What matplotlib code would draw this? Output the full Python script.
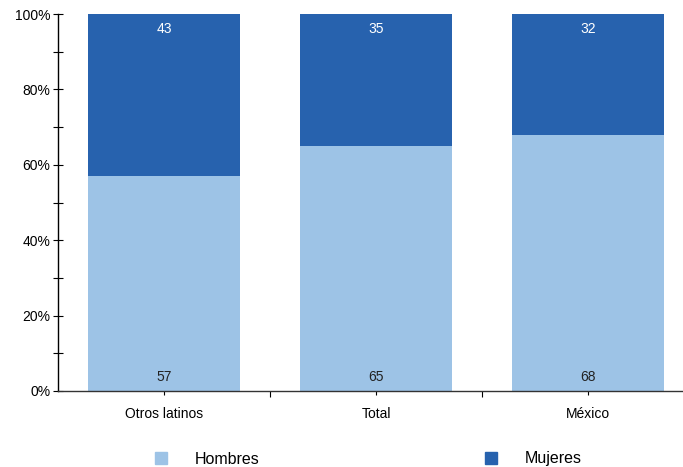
import matplotlib
matplotlib.use("Agg")
import matplotlib.pyplot as plt
from matplotlib.lines import Line2D
from matplotlib.ticker import MultipleLocator, FixedLocator, PercentFormatter

plt.rcParams['font.family'] = ['Liberation Sans', 'DejaVu Sans']

categories = ["Otros latinos", "Total", "México"]
hombres = [57, 65, 68]
mujeres = [43, 35, 32]
series_names = ["Hombres", "Mujeres"]
yticks = [0, 20, 40, 60, 80, 100]

c_light = "#9dc3e6"
c_dark = "#2762ae"

fig = plt.figure(figsize=(6.83, 4.67), dpi=100)
ax = fig.add_axes([58/683, 1-391/467, (694-58)/683, (391-14)/467])

x = list(range(len(categories)))
width = 0.717
ax.bar(x, hombres, width=width, color=c_light, zorder=2)
ax.bar(x, mujeres, width=width, bottom=hombres, color=c_dark, zorder=2)

for xi, h, m in zip(x, hombres, mujeres):
    ax.text(xi, 3.6, f"{h}", ha="center", va="center", fontsize=10, color="#222222")
    ax.text(xi, 96.1, f"{m}", ha="center", va="center", fontsize=10, color="white")

ax.set_xlim(-0.5, 2.5)
ax.set_ylim(0, 100)
ax.set_yticks(yticks)
ax.yaxis.set_major_formatter(PercentFormatter(decimals=0))
ax.yaxis.set_minor_locator(MultipleLocator(10))
ax.set_xticks(x)
ax.set_xticklabels(categories)
ax.xaxis.set_minor_locator(FixedLocator([0.5, 1.5]))

for s in ["top", "right"]:
    ax.spines[s].set_visible(False)
ax.spines["left"].set_linewidth(1.0)
ax.spines["bottom"].set_linewidth(1.0)
ax.spines["bottom"].set_color("#333333")

ax.tick_params(axis="y", which="both", direction="inout", length=7, width=0.8, labelsize=10, pad=2)
ax.tick_params(axis="x", which="major", direction="inout", length=6, width=0.8, labelsize=10, pad=8.5)
ax.tick_params(axis="x", which="minor", direction="out", length=4, width=0.8)

handles = [Line2D([], [], marker="s", linestyle="none", markersize=8, color=c)
           for c in (c_light, c_dark)]
fig.legend(handles, series_names, loc="center left", bbox_to_anchor=(155/683, 1-459/467),
           ncol=2, frameon=False, fontsize=11.5, handlelength=0.8, handletextpad=1.7,
           columnspacing=14.1, borderpad=0, borderaxespad=0)

fig.savefig("out.png", dpi=100)
